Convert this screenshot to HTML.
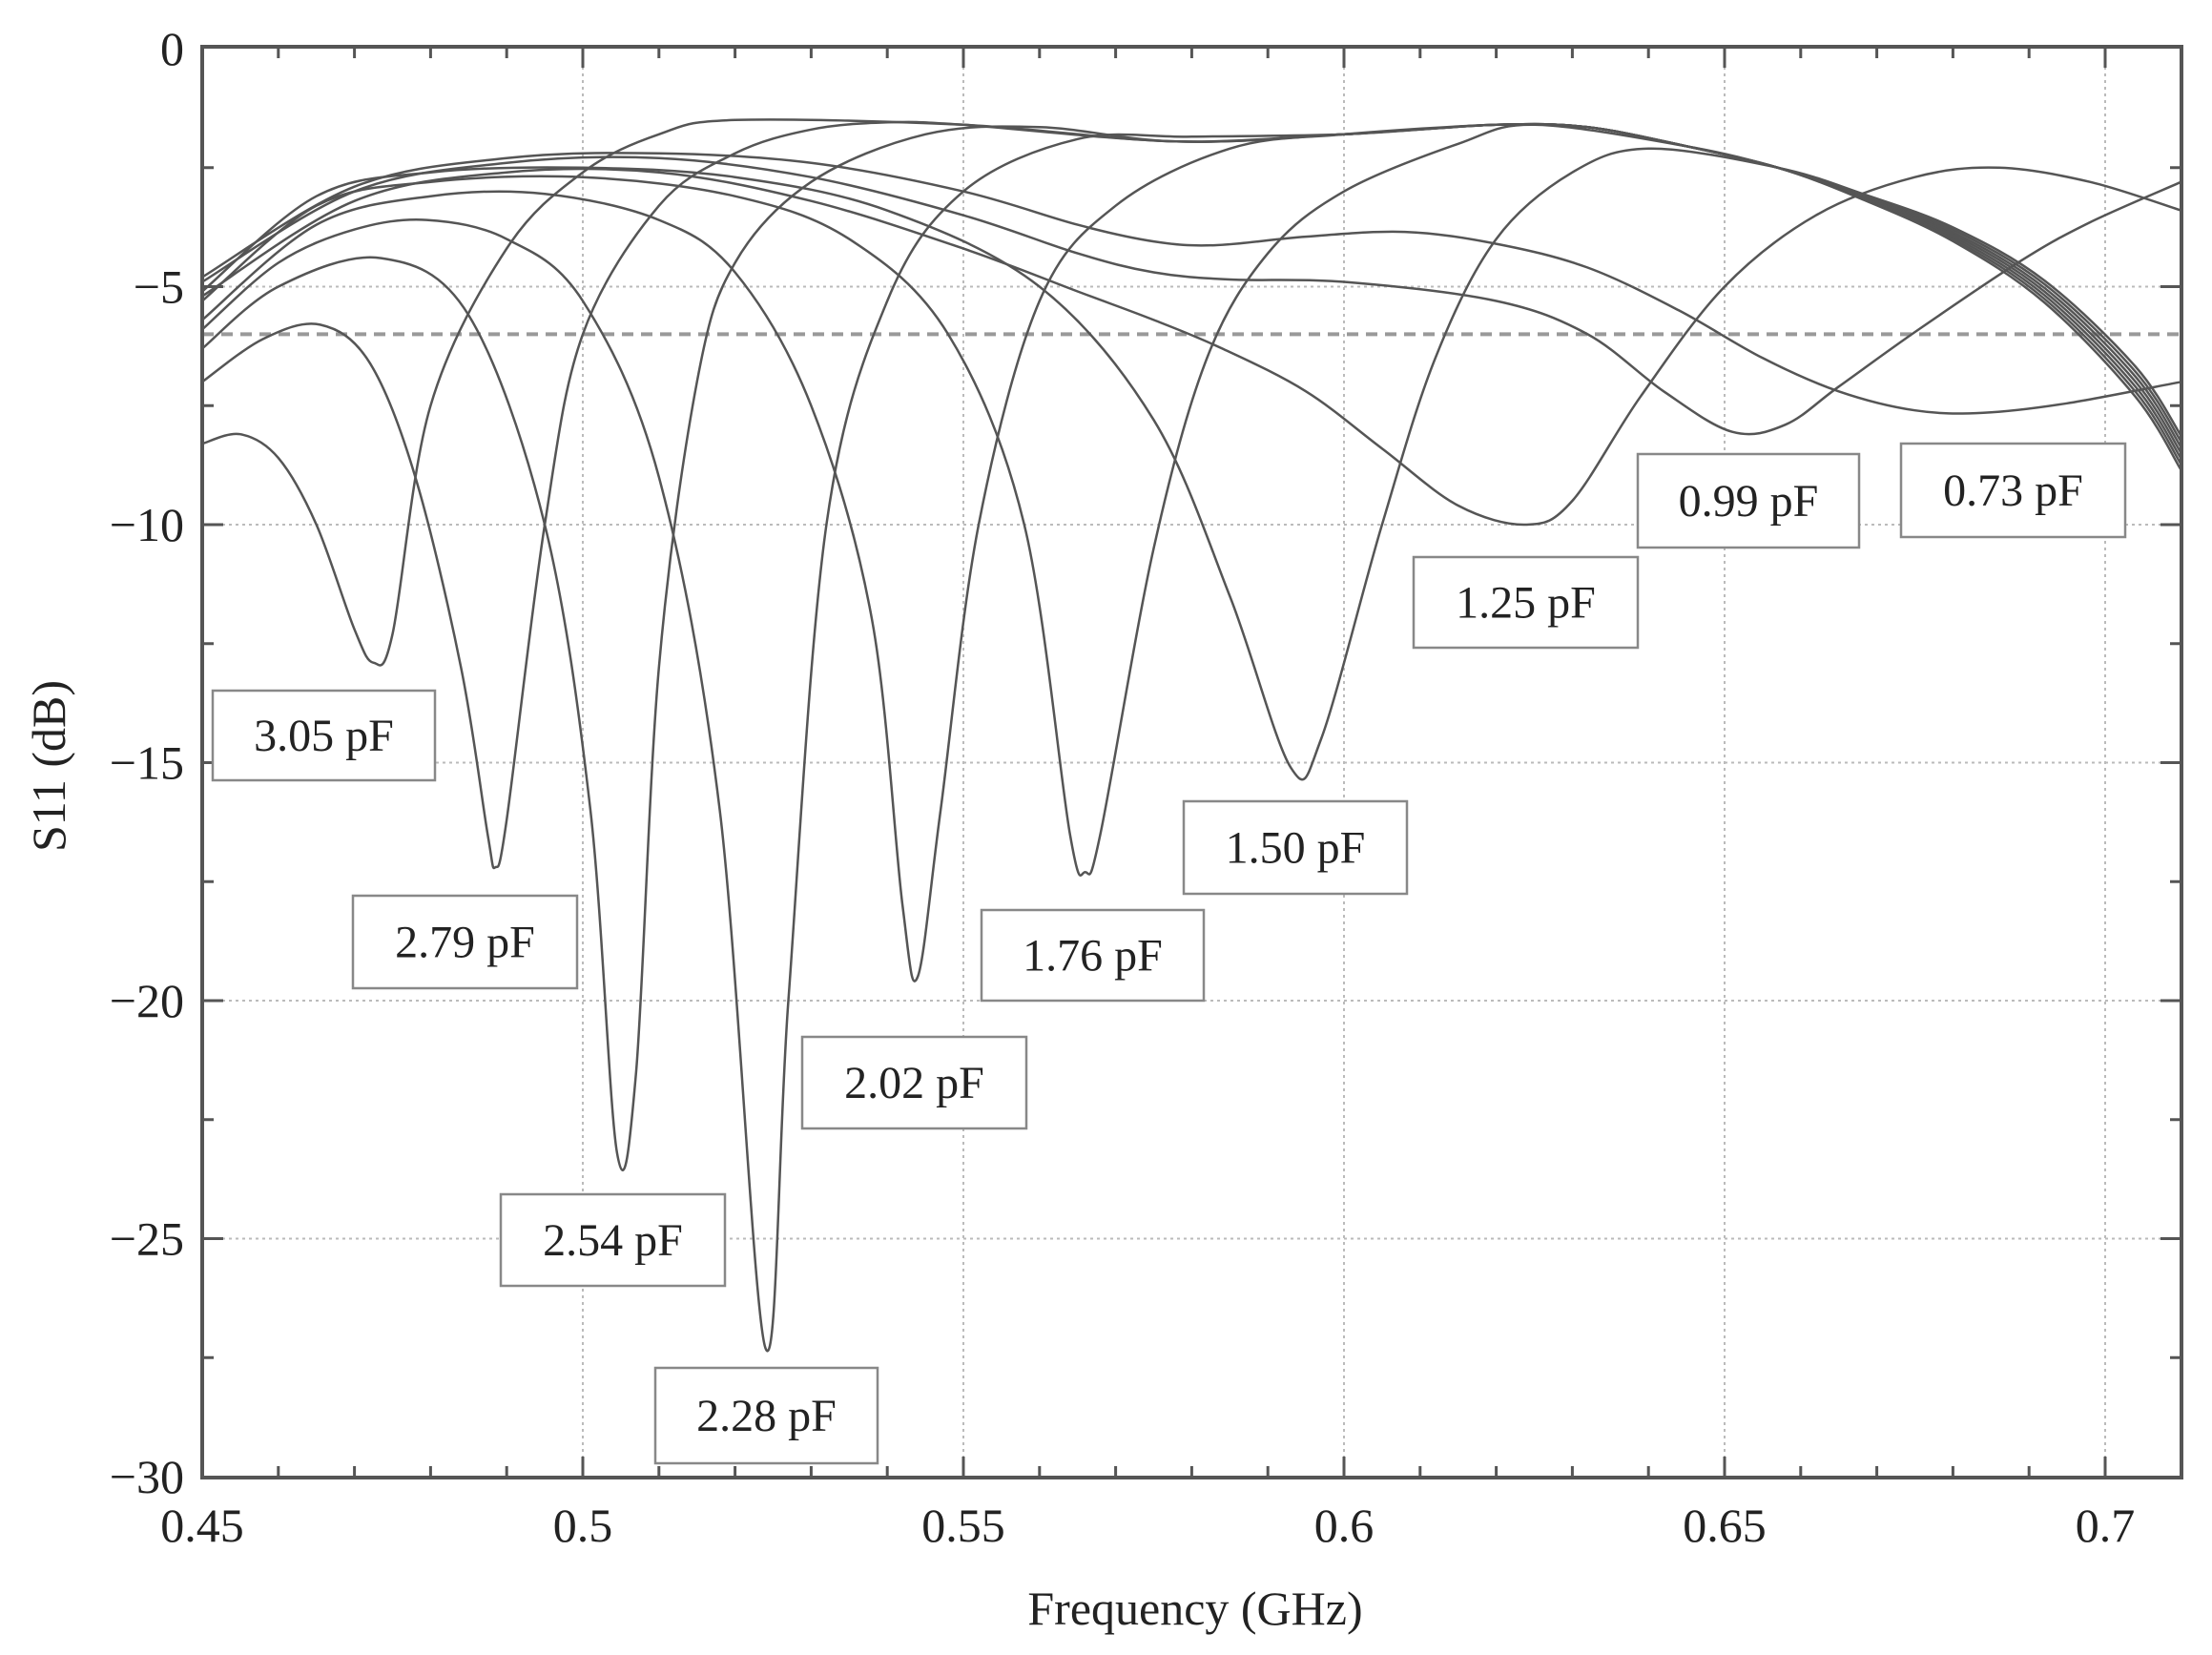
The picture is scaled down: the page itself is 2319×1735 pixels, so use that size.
<!DOCTYPE html>
<html><head><meta charset="utf-8"><style>
html,body{margin:0;padding:0;background:#fff;}
svg{display:block;}
text{font-family:"Liberation Serif",serif;fill:#222;}
</style></head><body>
<svg id="s" width="2319" height="1735" viewBox="0 0 2319 1735" xmlns="http://www.w3.org/2000/svg"></svg>
<script>
const X0=212,XS=7980,Y0=51,YS=49.9;
const fx=f=>X0+(f-0.45)*XS, fy=d=>Y0-d*YS;
let o='';
// grid
for(let i=1;i<=5;i++){const x=fx(0.45+i*0.05);o+=`<line x1="${x}" y1="49" x2="${x}" y2="1549" stroke="#bbb" stroke-width="2" stroke-dasharray="3,4"/>`;}
for(let i=1;i<6;i++){const y=fy(-5*i);o+=`<line x1="212" y1="${y}" x2="2287" y2="${y}" stroke="#bbb" stroke-width="2" stroke-dasharray="3,4"/>`;}
// ticks
for(let i=1;i<26;i++){const x=fx(0.45+i*0.01);const L=(i%5==0)?22:12;
o+=`<line x1="${x}" y1="1549" x2="${x}" y2="${1549-L}" stroke="#555" stroke-width="3"/><line x1="${x}" y1="49" x2="${x}" y2="${49+L}" stroke="#555" stroke-width="3"/>`;}
for(let i=1;i<12;i++){const y=fy(-2.5*i);const L=(i%2==0)?22:12;
o+=`<line x1="212" y1="${y}" x2="${212+L}" y2="${y}" stroke="#555" stroke-width="3"/><line x1="2287" y1="${y}" x2="${2287-L}" y2="${y}" stroke="#555" stroke-width="3"/>`;}
// dashed -6
o+=`<line x1="212" y1="${fy(-6)}" x2="2287" y2="${fy(-6)}" stroke="#999" stroke-width="4" stroke-dasharray="12,8"/>`;
const P=[[0.52,-1.5],[0.55,-1.6],[0.578,-1.95],[0.6,-1.8],[0.62,-1.6],[0.632,-1.65],[0.645,-2.05],[0.657,-2.5],[0.668,-3.1],[0.68,-3.9],[0.692,-5.1],[0.704,-7],[0.71,-8.5]];
function withP(pts,k){const last=pts[pts.length-1][0];const r=pts.slice();
 P.forEach(p=>{if(p[0]>last+0.008){let d=p[1];if(p[0]>0.66)d+= (k-3)*0.12*(p[0]-0.66)/0.05;r.push([p[0],d]);}});return r;}
const C=[
withP([[0.45,-8.3],[0.455,-8.1],[0.46,-8.6],[0.465,-10],[0.47,-12.2],[0.4725,-12.9],[0.475,-12.3],[0.48,-7.5],[0.49,-4.2],[0.50,-2.6],[0.51,-1.8],[0.52,-1.5]],0),
withP([[0.45,-7.0],[0.458,-6.1],[0.4655,-5.8],[0.472,-6.6],[0.478,-9],[0.484,-13],[0.4875,-16.5],[0.4885,-17.2],[0.49,-16.2],[0.495,-10],[0.50,-6],[0.51,-3.3],[0.52,-2.2],[0.53,-1.7],[0.54,-1.55]],1),
withP([[0.45,-6.3],[0.46,-5.0],[0.4735,-4.4],[0.485,-5.6],[0.495,-10],[0.501,-16],[0.5045,-23.2],[0.507,-21.5],[0.51,-13],[0.515,-7],[0.52,-4.5],[0.53,-2.8],[0.545,-1.8],[0.56,-1.65]],2),
withP([[0.45,-5.9],[0.46,-4.5],[0.47,-3.8],[0.4795,-3.6],[0.49,-4],[0.50,-5.3],[0.51,-9],[0.518,-16],[0.524,-27.3],[0.527,-20],[0.532,-10],[0.54,-5.3],[0.55,-3],[0.565,-1.9],[0.58,-1.85]],3),
withP([[0.45,-5.7],[0.465,-3.7],[0.48,-3.1],[0.495,-3.05],[0.51,-3.6],[0.52,-4.7],[0.53,-7.5],[0.538,-12],[0.542,-18],[0.544,-19.5],[0.547,-16],[0.552,-10],[0.56,-5.3],[0.57,-3.3],[0.585,-2.1],[0.60,-1.8]],4),
withP([[0.45,-5.3],[0.465,-3.3],[0.48,-2.8],[0.50,-2.7],[0.52,-3.1],[0.535,-4],[0.548,-6],[0.558,-10],[0.564,-16.5],[0.566,-17.3],[0.568,-16.5],[0.575,-10.5],[0.582,-6.5],[0.59,-4.3],[0.60,-3],[0.615,-2],[0.625,-1.6]],5),
withP([[0.45,-5.1],[0.465,-3.1],[0.48,-2.6],[0.50,-2.5],[0.52,-2.7],[0.54,-3.4],[0.56,-5],[0.575,-7.8],[0.585,-11.5],[0.593,-15.1],[0.597,-14.5],[0.605,-10],[0.612,-6.5],[0.62,-4],[0.63,-2.6],[0.64,-2.1]],6),
[[0.45,-5.2],[0.47,-3.2],[0.49,-2.6],[0.51,-2.6],[0.53,-3.2],[0.55,-4.2],[0.565,-5.1],[0.575,-5.7],[0.584,-6.3],[0.595,-7.2],[0.605,-8.4],[0.615,-9.6],[0.624,-10],[0.63,-9.5],[0.639,-7.3],[0.65,-5],[0.662,-3.5],[0.675,-2.7],[0.686,-2.5],[0.698,-2.8],[0.71,-3.4]],
[[0.45,-4.9],[0.47,-3],[0.49,-2.4],[0.51,-2.3],[0.53,-2.7],[0.55,-3.5],[0.565,-4.3],[0.575,-4.7],[0.585,-4.85],[0.60,-4.9],[0.62,-5.3],[0.632,-6],[0.642,-7.2],[0.651,-8.05],[0.658,-7.9],[0.665,-7.1],[0.6755,-5.9],[0.689,-4.45],[0.698,-3.65],[0.71,-2.8]],
[[0.45,-4.8],[0.47,-2.9],[0.49,-2.3],[0.51,-2.2],[0.53,-2.4],[0.55,-3],[0.565,-3.7],[0.575,-4.05],[0.583,-4.13],[0.595,-3.95],[0.608,-3.85],[0.62,-4.1],[0.632,-4.6],[0.644,-5.5],[0.655,-6.5],[0.665,-7.2],[0.675,-7.6],[0.684,-7.65],[0.695,-7.45],[0.71,-7.0]]
];
function cr(pts){const p=pts.map(a=>[fx(a[0]),fy(a[1])]);let d=`M${p[0][0].toFixed(1)},${p[0][1].toFixed(1)}`;
for(let i=0;i<p.length-1;i++){const a=p[Math.max(0,i-1)],b=p[i],c=p[i+1],e=p[Math.min(p.length-1,i+2)];
const c1=[b[0]+(c[0]-a[0])/6,b[1]+(c[1]-a[1])/6],c2=[c[0]-(e[0]-b[0])/6,c[1]-(e[1]-b[1])/6];
d+=`C${c1[0].toFixed(1)},${c1[1].toFixed(1)} ${c2[0].toFixed(1)},${c2[1].toFixed(1)} ${c[0].toFixed(1)},${c[1].toFixed(1)}`;}return d;}
o+='<g clip-path="url(#cp)">';
C.forEach(c=>{o+=`<path d="${cr(c)}" fill="none" stroke="#555" stroke-width="2.5"/>`;});
o+='</g><defs><clipPath id="cp"><rect x="212" y="49" width="2075" height="1500"/></clipPath></defs>';
// frame
o+=`<rect x="212" y="49" width="2075" height="1500" fill="none" stroke="#555" stroke-width="4"/>`;
// labels
const L=[["3.05 pF",223,724,456,818],["2.79 pF",370,939,605,1036],["2.54 pF",525,1252,760,1348],["2.28 pF",687,1434,920,1534],["2.02 pF",841,1087,1076,1183],["1.76 pF",1029,954,1262,1049],["1.50 pF",1241,840,1475,937],["1.25 pF",1482,584,1717,679],["0.99 pF",1717,476,1949,574],["0.73 pF",1993,465,2228,563]];
L.forEach(l=>{o+=`<rect x="${l[1]}" y="${l[2]}" width="${l[3]-l[1]}" height="${l[4]-l[2]}" fill="#fff" stroke="#888" stroke-width="2.5"/><text x="${(l[1]+l[3])/2}" y="${(l[2]+l[4])/2+16}" font-size="48" text-anchor="middle">${l[0]}</text>`;});
// tick labels
["0.45","0.5","0.55","0.6","0.65","0.7"].forEach((t,i)=>{o+=`<text x="${fx(0.45+i*0.05)}" y="1616" font-size="50" text-anchor="middle">${t}</text>`;});
for(let i=0;i<=6;i++){const t=i==0?"0":"\u2212"+(5*i);o+=`<text x="193" y="${fy(-5*i)+17}" font-size="50" text-anchor="end">${t}</text>`;}
o+=`<text x="1253" y="1703" font-size="50" text-anchor="middle">Frequency (GHz)</text>`;
o+=`<text transform="translate(68,803) rotate(-90)" font-size="50" text-anchor="middle">S11 (dB)</text>`;
document.getElementById('s').innerHTML=o;
</script>
</body></html>
